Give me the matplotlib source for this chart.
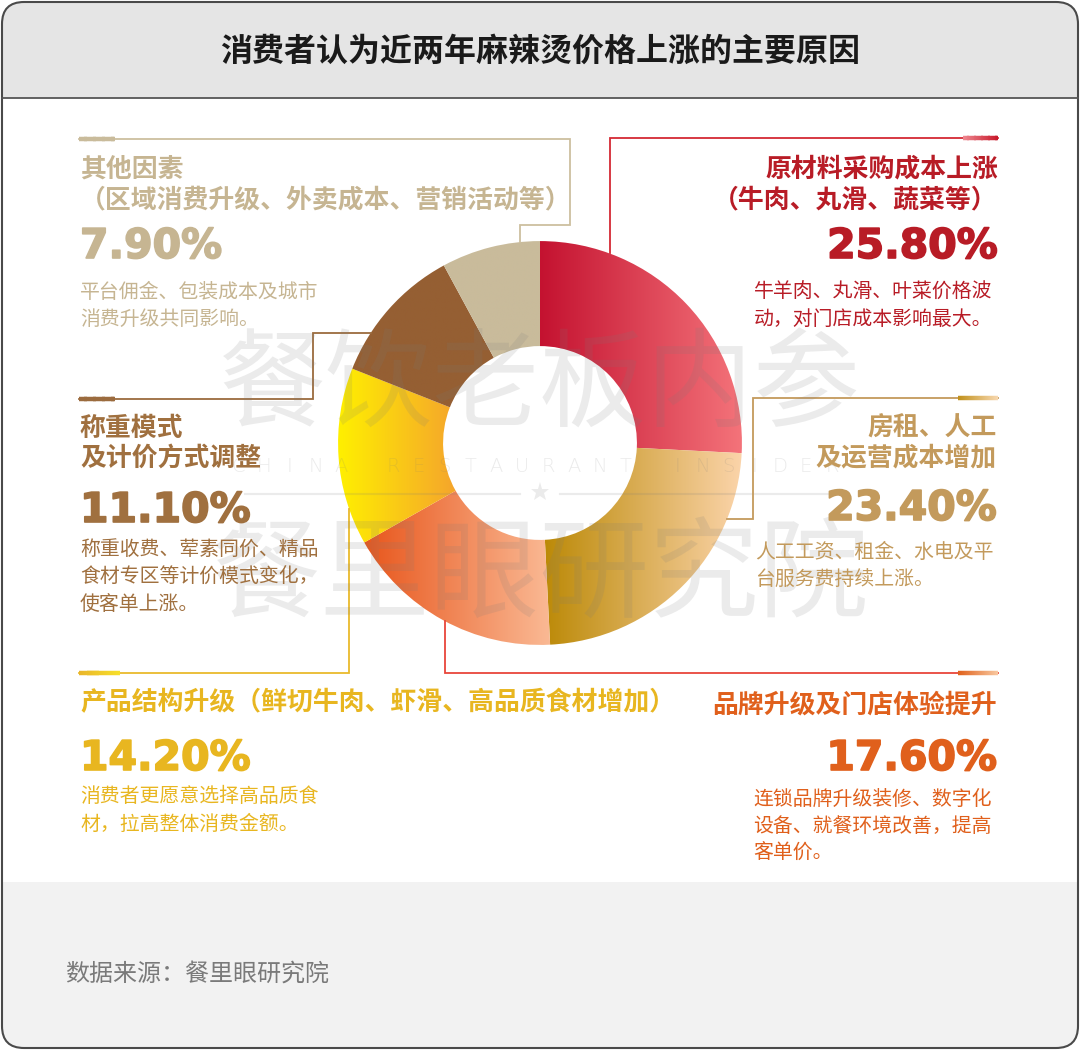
import numpy as np
import matplotlib
matplotlib.use("Agg")
import matplotlib.pyplot as plt
import matplotlib.patheffects as pe
from matplotlib.patches import FancyBboxPatch, Rectangle
from matplotlib.collections import LineCollection
from matplotlib.colors import LinearSegmentedColormap, to_rgb

plt.rcParams['font.family'] = ['Noto Sans CJK SC', 'DejaVu Sans']

# ---------------- data ----------------
title = "消费者认为近两年麻辣烫价格上涨的主要原因"
source = "数据来源：餐里眼研究院"
categories = ["原材料采购成本上涨", "房租、人工及运营成本增加", "品牌升级及门店体验提升",
              "产品结构升级", "称重模式及计价方式调整", "其他因素"]
values = [25.8, 23.4, 17.6, 14.2, 11.1, 7.9]
label_lines = [
    ["原材料采购成本上涨", "（牛肉、丸滑、蔬菜等）"],
    ["房租、人工", "及运营成本增加"],
    ["品牌升级及门店体验提升"],
    ["产品结构升级（鲜切牛肉、虾滑、高品质食材增加）"],
    ["称重模式", "及计价方式调整"],
    ["其他因素", "（区域消费升级、外卖成本、营销活动等）"],
]
desc_lines = [
    ["牛羊肉、丸滑、叶菜价格波", "动，对门店成本影响最大。"],
    ["人工工资、租金、水电及平", "台服务费持续上涨。"],
    ["连锁品牌升级装修、数字化", "设备、就餐环境改善，提高", "客单价。"],
    ["消费者更愿意选择高品质食", "材，拉高整体消费金额。"],
    ["称重收费、荤素同价、精品", "食材专区等计价模式变化，", "使客单上涨。"],
    ["平台佣金、包装成本及城市", "消费升级共同影响。"],
]
watermark_top = "餐饮老板内参"
watermark_mid = "CHINA RESTAURANT INSIDER"
watermark_bot = "餐里眼研究院"

# ---------------- styles ----------------
wedge_grad = [("#C41230", "#F4737A"), ("#BC8A08", "#FBD4AA"), ("#E8561C", "#FAB994"),
              ("#FFF000", "#F5A52C"), ("#955F33", "#955F33"), ("#C9BB9B", "#C9BB9B")]
text_colors = ["#B81C26", "#C39A5C", "#E0601C", "#E8B620", "#A0703F", "#C6B592"]
line_colors = ["#D42A34", "#C49A5C", "#E8453A", "#E9BA2C", "#9B6B3E", "#CDBF9F"]
accent_cols = [("#EE8890", "#C8182A"), ("#C0901A", "#F8D8B0"), ("#E0601A", "#F8C8A0"),
               ("#E9B52A", "#F7E02A"), ("#9B6B3E", "#9B6B3E"), ("#C9BB9B", "#C9BB9B")]

W, H = 1080, 1050
# layout in pixel coordinates
layout = [
    dict(ha='right', x=998, ty=[169, 200], pb=258, dx=754, dy=292,
         path=[(998, 138), (610, 138), (610, 253)], acc=(963, 998, 138)),
    dict(ha='right', x=997, ty=[428, 458], pb=520, dx=755, dy=552,
         path=[(998, 398), (753, 398), (753, 519), (727, 519)], acc=(958, 998, 398)),
    dict(ha='right', x=997, ty=[705], pb=770, dx=753, dy=799,
         path=[(998, 673), (445, 673), (445, 621)], acc=(958, 998, 673)),
    dict(ha='left', x=80, ty=[703], pb=770, dx=80, dy=797,
         path=[(79, 673), (349, 673), (349, 509)], acc=(79, 120, 673)),
    dict(ha='left', x=80, ty=[428, 458], pb=522, dx=80, dy=550,
         path=[(79, 399), (313, 399), (313, 333), (371, 333)], acc=(79, 115, 399)),
    dict(ha='left', x=80, ty=[169, 200], pb=258, dx=80, dy=292,
         path=[(79, 139), (570, 139), (570, 225), (520, 225), (520, 242)], acc=(79, 115, 139)),
]
desc_step = 27

fig = plt.figure(figsize=(W / 100, H / 100), dpi=100)

# ---------------- background ----------------
bg = fig.add_axes([0, 0, 1, 1], zorder=0)
bg.set_xlim(0, W); bg.set_ylim(H, 0); bg.axis('off')
frame = FancyBboxPatch((2, 2), W - 4, H - 4, boxstyle="round,pad=0,rounding_size=22",
                       facecolor='white', edgecolor='none')
bg.add_patch(frame)
for (y0, y1, col) in [(0, 98, '#E5E5E5'), (98, 882, '#FFFFFF'), (882, H, '#F2F2F2')]:
    r = Rectangle((0, y0), W, y1 - y0, facecolor=col, edgecolor='none')
    bg.add_patch(r)
    r.set_clip_path(frame)
bg.plot([2, W - 2], [98, 98], color='#555555', lw=1.3)
bg.add_patch(FancyBboxPatch((2, 2), W - 4, H - 4, boxstyle="round,pad=0,rounding_size=22",
                            facecolor='none', edgecolor='#4A4A4A', lw=1.5))

# ---------------- donut ----------------
axd = fig.add_axes([330 / W, (H - 653) / H, 420 / W, 420 / H], zorder=1)
wedges, _ = axd.pie(values, startangle=90, counterclock=False, radius=1,
                    wedgeprops=dict(width=0.52, linewidth=0))
grad = np.linspace(0, 1, 256).reshape(1, -1)
for w, (c0, c1) in zip(wedges, wedge_grad):
    ext = w.get_path().get_extents()
    cmap = LinearSegmentedColormap.from_list('g', [c0, c1])
    im = axd.imshow(grad, cmap=cmap, extent=[ext.x0, ext.x1, ext.y0, ext.y1],
                    aspect='auto', interpolation='bilinear', zorder=2)
    im.set_clip_path(w)
    w.set_facecolor('none')
axd.set_xlim(-1.04, 1.04); axd.set_ylim(-1.04, 1.04)
axd.set_aspect('equal'); axd.axis('off')

# ---------------- overlay ----------------
ax = fig.add_axes([0, 0, 1, 1], zorder=2)
ax.set_xlim(0, W); ax.set_ylim(H, 0); ax.axis('off')
ax.patch.set_visible(False)

ax.text(540, 52, title, ha='center', va='center', fontsize=23, fontweight='bold', color='#1A1A1A')
ax.text(65, 974, source, ha='left', va='center', fontsize=17.3, fontweight='light', color='#7A7A7A')

# watermark
wm = dict(color='#7A7A7A', alpha=0.15, ha='center', va='center')
ax.text(540, 388, watermark_top, fontsize=77, **wm)
ax.text(540, 578, watermark_bot, fontsize=79, **wm)
xs = np.linspace(238, 832, len(watermark_mid))
for xx, ch in zip(xs, watermark_mid):
    if ch != ' ':
        ax.text(xx, 467, ch, fontsize=14, family='DejaVu Sans', fontweight='light', **wm)
ax.plot([245, 520], [494, 494], color='#7A7A7A', alpha=0.15, lw=1.5)
ax.plot([560, 843], [494, 494], color='#7A7A7A', alpha=0.15, lw=1.5)
ax.plot([540], [492], marker='*', markersize=14, color='#7A7A7A', alpha=0.15, markeredgewidth=0)

# labels + connectors
for i, (lay, v) in enumerate(zip(layout, values)):
    col = text_colors[i]
    px, py = zip(*lay['path'])
    ax.plot(px, py, color=line_colors[i], lw=1.3, solid_joinstyle='miter')
    a0, a1, ay = lay['acc']
    n = 40
    xx = np.linspace(a0, a1, n + 1)
    segs = [[(xx[k], ay), (xx[k + 1] + 0.3, ay)] for k in range(n)]
    c0, c1 = np.array(to_rgb(accent_cols[i][0])), np.array(to_rgb(accent_cols[i][1]))
    cols = [tuple(c0 + (c1 - c0) * (k + 0.5) / n) for k in range(n)]
    ax.add_collection(LineCollection(segs, colors=cols, linewidths=3.2, capstyle='butt'))
    for line, y in zip(label_lines[i], lay['ty']):
        ax.text(lay['x'], y, line, ha=lay['ha'], va='center', fontsize=18.6,
                fontweight='bold', color=col)
    ax.text(lay['x'], lay['pb'], f"{v:.2f}%", ha=lay['ha'], va='baseline', fontsize=29.5,
            family='DejaVu Sans', fontweight='bold', color=col,
            path_effects=[pe.withStroke(linewidth=1.2, foreground=col)])
    for k, line in enumerate(desc_lines[i]):
        ax.text(lay['dx'], lay['dy'] + k * desc_step, line, ha='left', va='center',
                fontsize=14.3, color=col)

fig.savefig("out.png", dpi=100)
